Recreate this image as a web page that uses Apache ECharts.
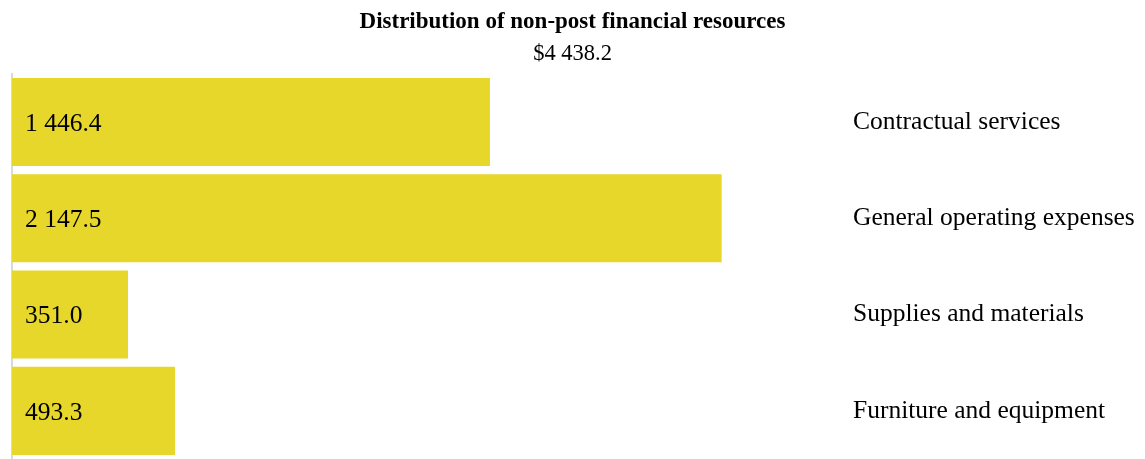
<!DOCTYPE html>
<html><head><meta charset="utf-8">
<script src="https://cdn.jsdelivr.net/npm/echarts@6/dist/echarts.min.js"></script>
<style>html,body{margin:0;padding:0;background:#fff}#c{width:1145px;height:459px}</style>
</head><body><div id="c"></div>
<script>
const categories = ["Contractual services", "General operating expenses", "Supplies and materials", "Furniture and equipment"];
const values = [1446.4, 2147.5, 351.0, 493.3];
const titleText = "Distribution of non-post financial resources";
const subtitleText = "$4 438.2";

function fmt(v) {
  const s = v.toFixed(1);
  const [i, d] = s.split('.');
  return i.replace(/\B(?=(\d{3})+(?!\d))/g, ' ') + '.' + d;
}
const font = '"Liberation Serif", "Times New Roman", serif';
const chart = echarts.init(document.getElementById('c'), null, {renderer: 'canvas'});
chart.setOption({
  animation: false,
  title: [
    {text: titleText, left: 'center', top: 6,
     textStyle: {fontFamily: font, fontSize: 23, fontWeight: 'bold', color: '#000'}},
    {text: subtitleText, left: 'center', top: 38,
     textStyle: {fontFamily: font, fontSize: 22.5, fontWeight: 'normal', color: '#000'}}
  ],
  grid: {left: 12, top: 73.8, width: 840, height: 391.6, containLabel: false},
  xAxis: {type: 'value', min: 0, max: 2542, show: false},
  yAxis: [
    {type: 'category', data: categories, inverse: true, position: 'left',
     axisLine: {show: true, lineStyle: {color: '#d9d9d9', width: 2}},
     axisTick: {show: false}, axisLabel: {show: false}},
    {type: 'category', data: categories, inverse: true, position: 'right',
     axisLine: {show: false}, axisTick: {show: false},
     axisLabel: {show: true, margin: 1, align: 'left', fontFamily: font, fontSize: 25.5, color: '#000',
                 padding: [4, 0, 0, 0]}}
  ],
  series: [{
    type: 'bar', data: values, yAxisIndex: 0, barCategoryGap: '8.5%',
    itemStyle: {color: '#e6d72a'},
    label: {show: true, position: 'insideLeft', distance: 13, offset: [0, 2], formatter: p => fmt(p.value),
            fontFamily: font, fontSize: 25.5, color: '#000'}
  }]
});
</script></body></html>
